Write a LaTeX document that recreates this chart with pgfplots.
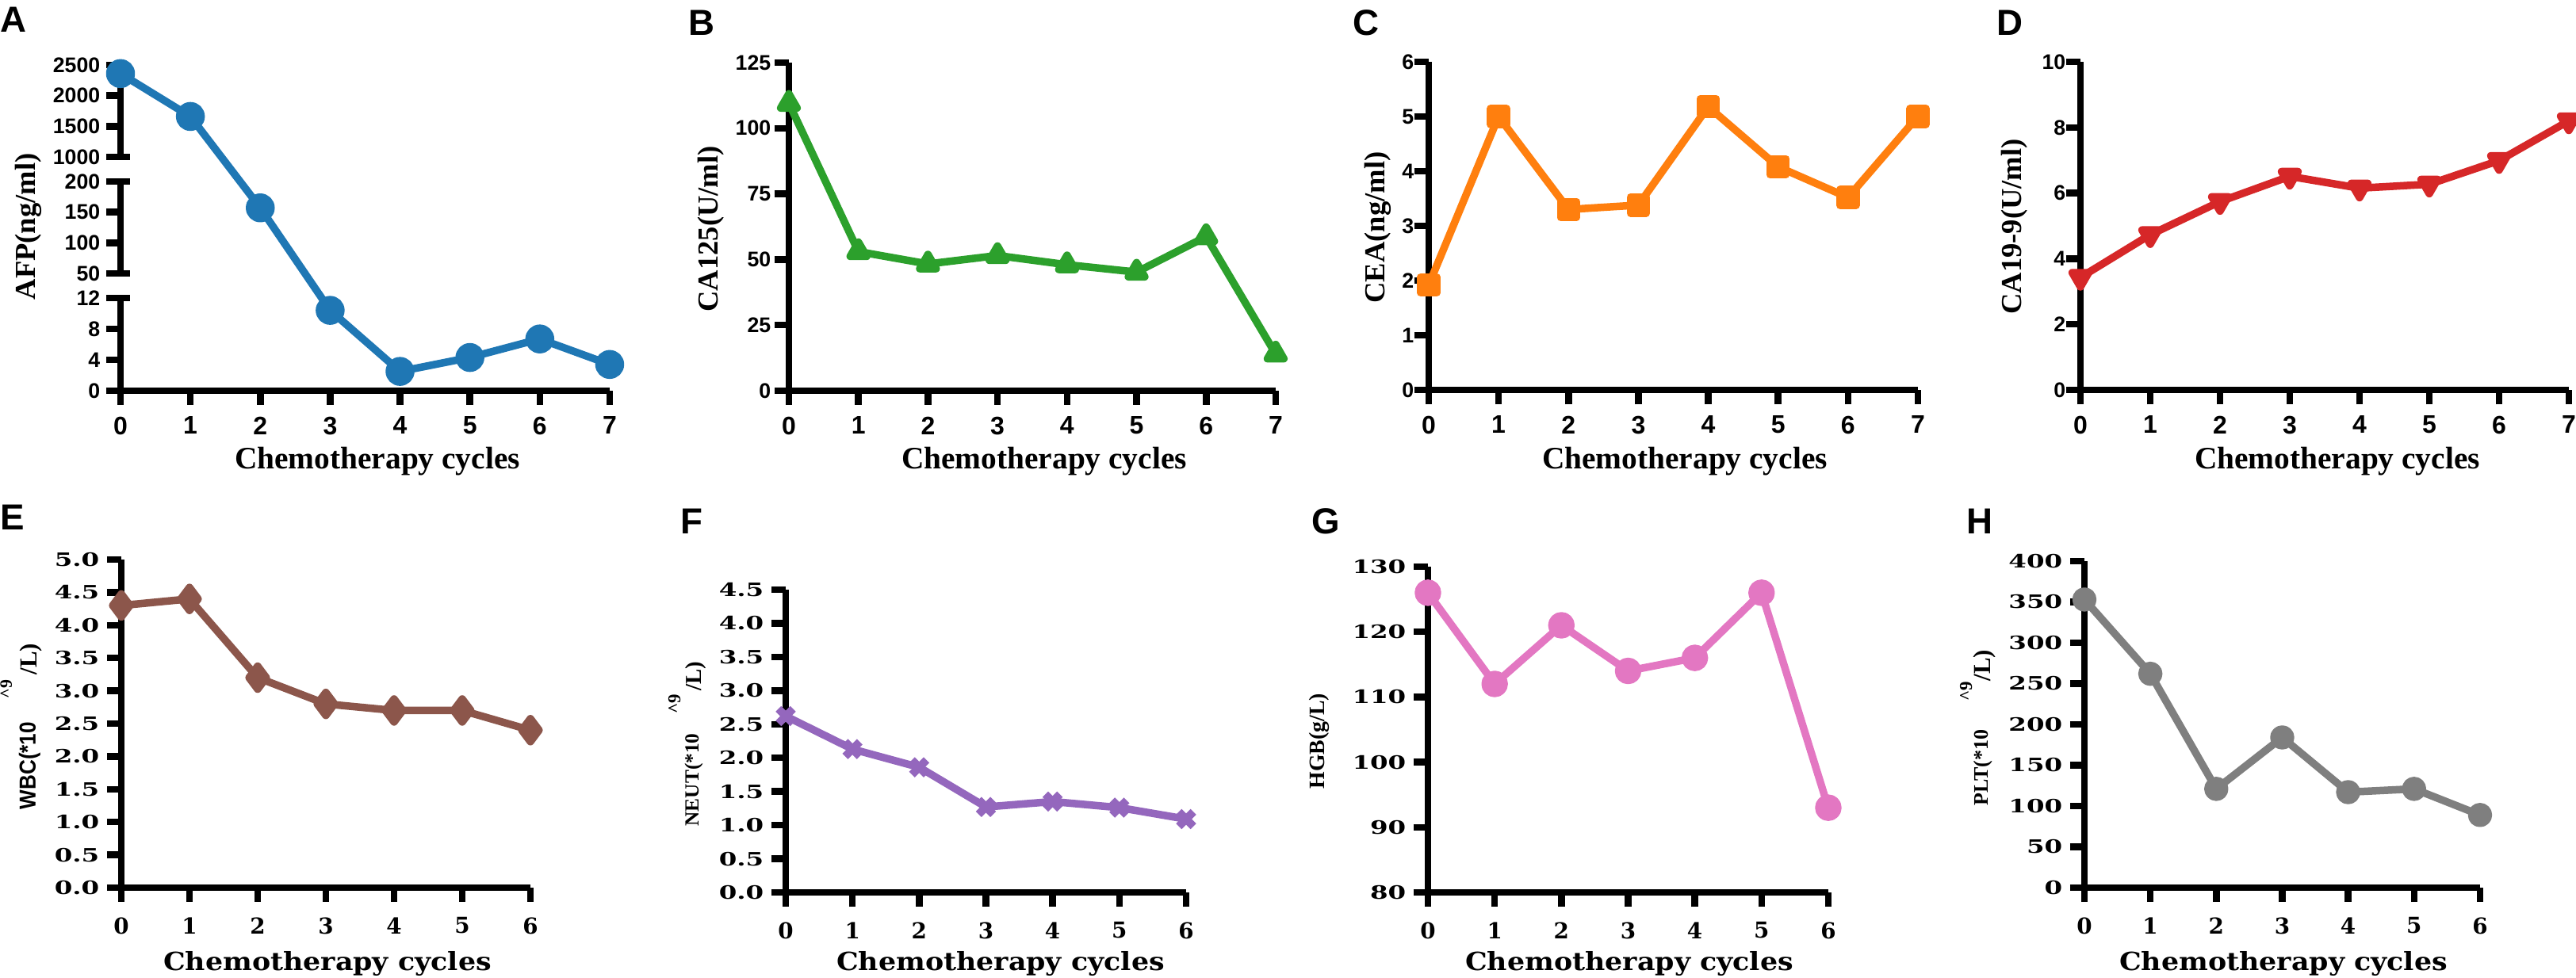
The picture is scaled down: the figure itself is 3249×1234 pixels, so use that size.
\documentclass[border=0pt]{standalone}
\usepackage{fontspec}
\usepackage{pgfplots}
\pgfplotsset{compat=1.18}
\setmainfont{Liberation Serif}
\newfontfamily\LSans{Liberation Sans}
\newfontfamily\LSansN{Liberation Sans}[FakeStretch=0.9]
\newfontfamily\DVS{DejaVu Serif}
\newfontfamily\DVSW{DejaVu Serif}[FakeStretch=1.4]
\newfontfamily\DVSX{DejaVu Serif}[FakeStretch=1.1]

\definecolor{cA}{HTML}{1F77B4}
\definecolor{cB}{HTML}{2CA02C}
\definecolor{cC}{HTML}{FF7F0E}
\definecolor{cD}{HTML}{D62728}
\definecolor{cE}{HTML}{8C564B}
\definecolor{cF}{HTML}{9467BD}
\definecolor{cG}{HTML}{E377C2}
\definecolor{cH}{HTML}{7F7F7F}

\newcommand\fXone{\rmfamily\bfseries\fontsize{11.2}{13}\selectfont}
\newcommand\fYone{\rmfamily\bfseries\fontsize{10.4}{12}\selectfont}
\newcommand\fXtwo{\DVSX\bfseries\fontsize{9}{10}\selectfont}
\newcommand\fPanel{\LSans\bfseries\fontsize{13}{14}\selectfont}

\makeatletter
\newcommand\afptrafo[1]{%
  \pgfutil@in@{Y}{#1}%
  \ifpgfutil@in@
    \pgfmathfloattofixed{#1}\edef\afpval{\pgfmathresult}%
  \else
    \edef\afpval{#1}%
  \fi
  \edef\pgfmathresult{\fpeval{(\afpval<12.5) ? (\afpval*9.75) : ((\afpval<300) ? (148+(\afpval-50)*0.773333) : (295+(\afpval-1000)*0.0773333))}}%
}
\makeatother

\pgfplotsset{
  prism/.style={
    scale only axis, anchor=south west,
    axis lines=left,
    axis line style={-, line width=0.85mm, black},
    tick style={line width=0.85mm, black},
    major tick length=1.8mm,
    tick align=outside,
    enlargelimits=false,
    clip=false,
    xmin=0,
    minor tick num=0,
    /pgf/number format/assume math mode=true,
  },
  rowone/.style={prism, xmax=7, xtick={0,1,...,7},
    xticklabel style={font=\LSans\bfseries\fontsize{9.1}{10}\selectfont, anchor=north, inner sep=0pt, yshift=-1.4mm},
    yticklabel style={font=\LSans\bfseries\fontsize{7.6}{8}\selectfont, anchor=east, inner sep=0pt},
  },
  rowtwo/.style={prism, xmax=6, xtick={0,1,...,6},
    xticklabel style={font=\DVS\bfseries\fontsize{7.9}{8}\selectfont, anchor=north, inner sep=0pt, yshift=-1.9mm},
    yticklabel style={font=\DVSW\bfseries\fontsize{6.6}{7}\selectfont, anchor=east, inner sep=0pt, xshift=-0.9mm},
  },
  dataline/.style={line width=0.95mm, line join=round},
}

\begin{document}
\begin{tikzpicture}[x=0.1mm,y=0.1mm]
\path[use as bounding box] (0,0) rectangle (3249,1234);

% ---------------- A (broken axis) ----------------
\begin{axis}[rowone, at={(15.2mm,74.1mm)}, width=61.7mm, height=41.1mm,
  ymin=0, ymax=2500,
  y coord trafo/.code={\afptrafo{#1}},
  ytick={0,4,8,12,50,100,150,200,1000,1500,2000,2500},
  yticklabels={0,4,8,12,50,100,150,200,1000,1500,2000,2500},
  y axis line style={draw=none},
  yticklabel style={xshift=-0.7mm},
]
\draw[line width=0.85mm] (axis cs:0,0) -- (axis cs:0,12);
\draw[line width=0.85mm] (axis cs:0,50) -- (axis cs:0,200);
\draw[line width=0.85mm] (axis cs:0,1000) -- (axis cs:0,2500);
\draw[line width=0.85mm] (axis cs:0,12) -- ++(1.2mm,0);
\draw[line width=0.85mm] (axis cs:0,50) -- ++(1.2mm,0);
\draw[line width=0.85mm] (axis cs:0,200) -- ++(1.2mm,0);
\draw[line width=0.85mm] (axis cs:0,1000) -- ++(1.2mm,0);
\addplot[dataline, cA, mark=*, mark size=1.35mm, mark options={fill=cA}]
  coordinates {(0,2360) (1,1660) (2,157) (3,10.4) (4,2.5) (5,4.3) (6,6.7) (7,3.4)};
\end{axis}

% ---------------- B ----------------
\begin{axis}[rowone, at={(99.5mm,74.1mm)}, width=61.4mm, height=41.4mm,
  ymin=0, ymax=125, ytick={0,25,...,125}, yticklabel style={xshift=-0.4mm}]
\addplot[dataline, cB, mark=triangle*, mark size=1.2mm, mark options={fill=cB}]
  coordinates {(0,109.5) (1,53) (2,48.3) (3,51.5) (4,48) (5,45.2) (6,58.7) (7,14)};
\end{axis}

% ---------------- C ----------------
\begin{axis}[rowone, at={(180.2mm,74.2mm)}, width=61.7mm, height=41.4mm,
  ymin=0, ymax=6, ytick={0,1,...,6}, yticklabel style={xshift=0mm}]
\addplot[dataline, cC, mark=square*, mark size=1.0mm, mark options={fill=cC}]
  coordinates {(0,1.92) (1,5.0) (2,3.3) (3,3.38) (4,5.18) (5,4.08) (6,3.52) (7,5.0)};
\end{axis}

% ---------------- D ----------------
\begin{axis}[rowone, at={(262.4mm,74.2mm)}, width=61.6mm, height=41.4mm,
  ymin=0, ymax=10, ytick={0,2,...,10}, yticklabel style={xshift=0mm}]
\addplot[dataline, cD, mark=triangle*, mark size=1.2mm, mark options={fill=cD, rotate=180}]
  coordinates {(0,3.43) (1,4.73) (2,5.74) (3,6.51) (4,6.15) (5,6.27) (6,6.99) (7,8.2)};
\end{axis}

% ---------------- E ----------------
\begin{axis}[rowtwo, at={(15.3mm,11.4mm)}, width=51.6mm, height=41.4mm,
  ymin=0, ymax=5, ytick={0,0.5,...,5},
  yticklabel style={/pgf/number format/.cd, fixed, fixed zerofill, precision=1}]
\addplot[dataline, cE, mark=diamond*, mark size=1.45mm, mark options={fill=cE}]
  coordinates {(0,4.3) (1,4.4) (2,3.2) (3,2.8) (4,2.7) (5,2.7) (6,2.4)};
\end{axis}

% ---------------- F ----------------
\begin{axis}[rowtwo, at={(99.1mm,10.8mm)}, width=50.5mm, height=38.2mm,
  ymin=0, ymax=4.5, ytick={0,0.5,...,4.5},
  yticklabel style={/pgf/number format/.cd, fixed, fixed zerofill, precision=1}]
\addplot[dataline, cF, mark=x, mark size=1.3mm, mark options={line width=1.0mm}]
  coordinates {(0,2.62) (1,2.13) (2,1.86) (3,1.27) (4,1.35) (5,1.26) (6,1.09)};
\end{axis}

% ---------------- G ----------------
\begin{axis}[rowtwo, at={(180.1mm,10.8mm)}, width=50.5mm, height=41.1mm,
  ymin=80, ymax=130, ytick={80,90,...,130}]
\addplot[dataline, cG, mark=*, mark size=1.2mm, mark options={fill=cG}]
  coordinates {(0,126) (1,112) (2,121) (3,114) (4,116) (5,126) (6,93)};
\end{axis}

% ---------------- H ----------------
\begin{axis}[rowtwo, at={(262.9mm,11.4mm)}, width=49.9mm, height=41.2mm,
  ymin=0, ymax=400, ytick={0,50,...,400}]
\addplot[dataline, cH, mark=*, mark size=1.05mm, mark options={fill=cH}]
  coordinates {(0,353) (1,262) (2,121) (3,184) (4,117) (5,121) (6,89)};
\end{axis}

% ---------------- panel letters ----------------
\node[anchor=north west, inner sep=0pt, font=\fPanel] at (0,1226) {A};
\node[anchor=north west, inner sep=0pt, font=\fPanel] at (868,1222) {B};
\node[anchor=north west, inner sep=0pt, font=\fPanel] at (1706,1222) {C};
\node[anchor=north west, inner sep=0pt, font=\fPanel] at (2518,1222) {D};
\node[anchor=north west, inner sep=0pt, font=\fPanel] at (0,598) {E};
\node[anchor=north west, inner sep=0pt, font=\fPanel] at (858,593) {F};
\node[anchor=north west, inner sep=0pt, font=\fPanel] at (1654,593) {G};
\node[anchor=north west, inner sep=0pt, font=\fPanel] at (2480,593) {H};

% ---------------- x labels ----------------
\foreach \cx in {476,1317,2125,2948}
  \node[anchor=base, inner sep=0pt, font=\fXone] at (\cx,642) {Chemotherapy cycles};
\foreach \cx in {413,1262,2055,2880}
  \node[anchor=base, inner sep=0pt, font=\fXtwo] at (\cx,9) {Chemotherapy cycles};

% ---------------- y labels row 1 ----------------
\node[rotate=90, anchor=base, inner sep=0pt, font=\fYone] at (45,948) {AFP(ng/ml)};
\node[rotate=90, anchor=base, inner sep=0pt, font=\fYone] at (905,945) {CA125(U/ml)};
\node[rotate=90, anchor=base, inner sep=0pt, font=\fYone] at (1746,947) {CEA(ng/ml)};
\node[rotate=90, anchor=base, inner sep=0pt, font=\fYone] at (2549,948) {CA19-9(U/ml)};

% ---------------- y labels row 2 ----------------
% E
\node[rotate=90, anchor=base west, inner sep=0pt, font=\LSansN\bfseries\fontsize{8.25}{9}\selectfont] at (45,212) {WBC(*10};
\node[rotate=90, anchor=base west, inner sep=0pt, font=\rmfamily\bfseries\fontsize{6.2}{7}\selectfont] at (15,352) {\^{}9};
\node[rotate=90, anchor=base west, inner sep=0pt, font=\rmfamily\bfseries\fontsize{8.8}{10}\selectfont] at (47,382) {/L)};
% F
\node[rotate=90, anchor=base west, inner sep=0pt, font=\rmfamily\bfseries\fontsize{7.2}{8}\selectfont] at (881,191) {NEUT(*10};
\node[rotate=90, anchor=base west, inner sep=0pt, font=\rmfamily\bfseries\fontsize{6.5}{7}\selectfont] at (858,333) {\^{}9};
\node[rotate=90, anchor=base west, inner sep=0pt, font=\rmfamily\bfseries\fontsize{8.2}{9}\selectfont] at (884,362) {/L)};
% G
\node[rotate=90, anchor=base west, inner sep=0pt, font=\rmfamily\bfseries\fontsize{7.9}{9}\selectfont] at (1670,238) {HGB(g/L)};
% H
\node[rotate=90, anchor=base west, inner sep=0pt, font=\rmfamily\bfseries\fontsize{7.4}{8}\selectfont] at (2507,217) {PLT(*10};
\node[rotate=90, anchor=base west, inner sep=0pt, font=\rmfamily\bfseries\fontsize{6.5}{7}\selectfont] at (2487,349) {\^{}9};
\node[rotate=90, anchor=base west, inner sep=0pt, font=\rmfamily\bfseries\fontsize{8.8}{10}\selectfont] at (2510,374) {/L)};
\end{tikzpicture}
\end{document}
